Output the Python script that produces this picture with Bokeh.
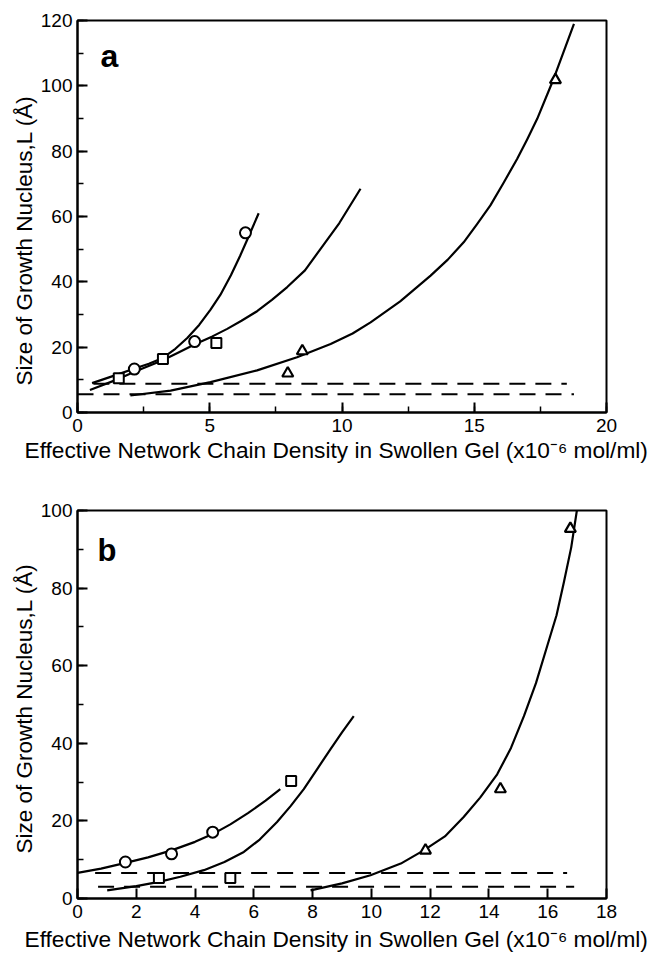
from bokeh.plotting import figure
from bokeh.layouts import column
from bokeh.models import Range1d, SingleIntervalTicker, Label, Title
from bokeh.embed import file_html
from bokeh.resources import INLINE

FONT = "Liberation Sans"

# ---------------- Panel a data ----------------
a_circle_x = [2.15, 4.43, 6.35]
a_circle_y = [13.3, 21.7, 55.0]
a_square_x = [1.56, 3.23, 5.25]
a_square_y = [10.5, 16.4, 21.3]
a_tri_x = [7.95, 8.5, 18.07]
a_tri_y = [12.0, 18.8, 101.8]

a_curve1_x = [0.55, 1.5, 2.13, 2.7, 3.2, 3.7, 4.15, 4.6, 5.03, 5.4, 5.8, 6.15, 6.45, 6.85]
a_curve1_y = [9.0, 11.6, 13.4, 14.9, 16.6, 19.5, 22.8, 26.8, 31.5, 36.0, 42.0, 48.0, 53.5, 61.0]
a_curve2_x = [0.47, 1.56, 2.2, 3.2, 3.8, 4.46, 5.1, 5.66, 6.2, 6.79, 7.35, 7.93, 8.6, 9.19, 9.9, 10.7]
a_curve2_y = [6.9, 10.3, 12.6, 15.9, 18.3, 21.0, 23.3, 25.6, 28.1, 31.0, 34.5, 38.4, 43.5, 50.1, 58.0, 68.5]
a_curve3_x = [2.0, 3.52, 5.03, 6.79, 8.3, 9.57, 10.4, 11.08, 12.2, 13.35, 14.0, 14.6, 15.1, 15.61, 16.1,
              16.62, 17.0, 17.38, 18.0, 18.77]
a_curve3_y = [5.2, 6.7, 9.3, 12.9, 16.9, 21.0, 24.2, 27.6, 34.0, 41.9, 46.8, 52.1, 57.6, 63.4, 70.2,
              77.6, 83.6, 89.9, 102.1, 119.0]

a_dash_upper_x = [0.6, 18.5]
a_dash_upper_y = [8.8, 8.8]
a_dash_lower_x = [0.0, 18.77]
a_dash_lower_y = [5.6, 5.6]

# ---------------- Panel b data ----------------
b_circle_x = [1.63, 3.2, 4.6]
b_circle_y = [9.4, 11.5, 17.1]
b_square_x = [2.77, 5.2, 7.27]
b_square_y = [5.3, 5.3, 30.3]
b_tri_x = [11.84, 14.39, 16.77]
b_tri_y = [12.4, 28.2, 95.3]

b_curve1_x = [0.0, 0.8, 1.6, 2.4, 3.2, 4.0, 4.6, 5.2, 5.8, 6.4, 6.9]
b_curve1_y = [6.6, 7.7, 9.1, 10.6, 12.4, 14.6, 16.6, 19.1, 22.0, 25.2, 28.2]
b_curve2_x = [1.01, 2.0, 2.77, 3.5, 4.3, 5.0, 5.66, 6.2, 6.79, 7.25, 7.7, 8.15, 8.61, 9.0, 9.4]
b_curve2_y = [2.1, 3.2, 4.3, 5.6, 7.3, 9.4, 12.0, 15.2, 19.7, 23.8, 28.2, 33.3, 38.5, 42.8, 47.0]
b_curve3_x = [7.93, 9.0, 9.97, 11.0, 11.78, 12.5, 13.14, 13.7, 14.28, 14.75, 15.19, 15.6, 15.98, 16.3,
              16.55, 16.8, 17.0]
b_curve3_y = [2.1, 3.9, 6.0, 9.0, 12.4, 16.0, 21.0, 26.0, 32.0, 38.8, 47.0, 55.5, 65.0, 73.0,
              81.5, 90.5, 100.4]

b_dash_upper_x = [0.6, 16.66]
b_dash_upper_y = [6.6, 6.6]
b_dash_lower_x = [0.7, 16.9]
b_dash_lower_y = [3.0, 3.0]

# ---------------- Axis settings ----------------
a_xmax, a_ymax = 20, 120
b_xmax, b_ymax = 18, 100

x_label = "Effective Network Chain Density in Swollen Gel (x10\u207b\u2076 mol/ml)"
y_label = "Size of Growth Nucleus,L (\u00c5)"

W = 652
LEFT, RIGHT = 77, 46
FRAME_W = W - LEFT - RIGHT


def make_fig(height, top, bottom, xmax, ymax, xint, yint, xminor):
    p = figure(width=W, height=height, x_range=Range1d(0, xmax), y_range=Range1d(0, ymax),
               output_backend="svg", toolbar_location=None,
               min_border_left=LEFT, min_border_right=RIGHT,
               min_border_top=top, min_border_bottom=bottom)
    p.xgrid.visible = False
    p.ygrid.visible = False
    p.outline_line_color = "black"
    p.outline_line_width = 2
    p.background_fill_color = "white"
    p.border_fill_color = "white"
    p.xaxis.ticker = SingleIntervalTicker(interval=xint, num_minor_ticks=max(xminor, 0))
    p.yaxis.ticker = SingleIntervalTicker(interval=yint, num_minor_ticks=2)
    for ax in (p.xaxis[0], p.yaxis[0]):
        ax.axis_line_width = 2
        ax.axis_line_color = "black"
        ax.major_tick_in = 10
        ax.major_tick_out = 0
        ax.minor_tick_in = 6
        ax.minor_tick_out = 0
        ax.major_tick_line_width = 2
        ax.minor_tick_line_width = 1.5
        ax.major_tick_line_color = "black"
        ax.minor_tick_line_color = "black"
        ax.major_label_text_font = FONT
        ax.major_label_text_font_size = "19px"
        ax.major_label_text_color = "black"
    p.yaxis.major_label_standoff = 5
    p.xaxis.major_label_standoff = 6
    if xminor <= 0:
        p.xaxis.minor_tick_line_color = None
    return p


def draw(p, cx, cy, sx, sy, tx, ty, curves, dashes):
    for (xs, ys) in curves:
        p.line(xs, ys, line_color="black", line_width=2.2, line_join="round")
    for (xs, ys) in dashes:
        p.line(xs, ys, line_color="black", line_width=2, line_dash="16 10")
    p.scatter(cx, cy, marker="circle", size=11, fill_color="white", line_color="black", line_width=2)
    p.scatter(sx, sy, marker="square", size=10, fill_color="white", line_color="black", line_width=2)
    p.scatter(tx, ty, marker="triangle", size=11, fill_color="white", line_color="black", line_width=2.2)


def add_labels(p, to_x, to_y, letter, letter_pos, letter_size, x_standoff, y_offset):
    p.add_layout(Label(x=to_x(letter_pos[0]), y=to_y(letter_pos[1]), text=letter,
                       text_font=FONT, text_font_size=letter_size, text_font_style="bold",
                       text_align="left", text_baseline="alphabetic", text_color="black"))
    p.add_layout(Title(text=x_label, align="left", offset=24 - LEFT, standoff=x_standoff,
                       text_font=FONT, text_font_size="22.7px", text_font_style="normal",
                       text_color="black"), "below")
    p.add_layout(Title(text=y_label, align="left", offset=y_offset, standoff=2,
                       text_font=FONT, text_font_size="22.5px", text_font_style="normal",
                       text_color="black"), "left")


# Panel a: frame from x 77..606, y 20..412 (figure pixels)
pa = make_fig(470, 20, 58, a_xmax, a_ymax, 5, 20, 2)
draw(pa, a_circle_x, a_circle_y, a_square_x, a_square_y, a_tri_x, a_tri_y,
     [(a_curve1_x, a_curve1_y), (a_curve2_x, a_curve2_y), (a_curve3_x, a_curve3_y)],
     [(a_dash_upper_x, a_dash_upper_y), (a_dash_lower_x, a_dash_lower_y)])
ax_px = lambda px: (px - LEFT) * a_xmax / FRAME_W
ay_px = lambda py: (412 - py) * a_ymax / 392
add_labels(pa, ax_px, ay_px, "a", (100, 55), "32px", 0, 27)

# Panel b: frame from x 77..606, y 510..900 (page pixels; figure starts at 470)
pb = make_fig(484, 40, 54, b_xmax, b_ymax, 2, 20, 0)
draw(pb, b_circle_x, b_circle_y, b_square_x, b_square_y, b_tri_x, b_tri_y,
     [(b_curve1_x, b_curve1_y), (b_curve2_x, b_curve2_y), (b_curve3_x, b_curve3_y)],
     [(b_dash_upper_x, b_dash_upper_y), (b_dash_lower_x, b_dash_lower_y)])
bx_px = lambda px: (px - LEFT) * b_xmax / FRAME_W
by_px = lambda py: (900 - py) * b_ymax / 390
add_labels(pb, bx_px, by_px, "b", (97, 550), "31px", 6, 45)

layout = column(pa, pb, spacing=0)
open("out.html", "w").write(file_html(layout, INLINE))
